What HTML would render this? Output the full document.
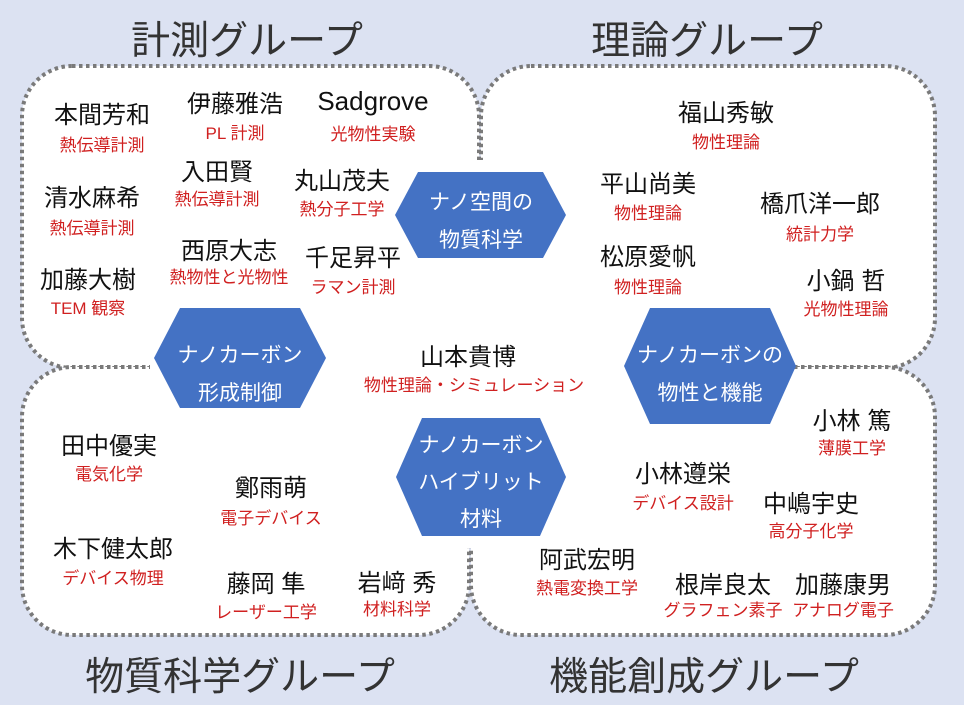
<!DOCTYPE html>
<html><head><meta charset="utf-8"><style>
body{margin:0;width:964px;height:705px;background:#dce2f2;position:relative;overflow:hidden;font-family:"Liberation Sans","Noto Sans CJK JP",sans-serif}
svg{position:absolute;left:0;top:0}
.t{position:absolute;transform:translateX(-50%);white-space:nowrap;text-align:center}
.n{font-size:24px;color:#111}
.s{font-size:17px;color:#d02020}
.h{font-size:39px;color:#333;letter-spacing:0px}
.x{font-size:21px;color:#fff;line-height:38px}
</style></head><body>
<svg width="964" height="705">
<g fill="#fff" stroke="#7a7a7a" stroke-width="4" stroke-dasharray="3.5 3.5">
<rect x="22" y="66" width="457" height="302" rx="50"/>
<rect x="481" y="66" width="454" height="302" rx="50"/>
<rect x="22" y="367" width="447" height="268" rx="50"/>
<rect x="471" y="367" width="464" height="268" rx="50"/>
</g>
<g fill="#fff">
<rect x="150" y="330" width="620" height="75"/>
<rect x="440" y="160" width="80" height="388"/>
<rect x="360" y="170" width="240" height="370"/>
</g>
<g fill="#4472c4">
<polygon points="418,172 543,172 566,215 543,258 418,258 395,215"/>
<polygon points="180,308 300,308 326,358 300,408 180,408 154,358"/>
<polygon points="650,308 770,308 796,366 770,424 650,424 624,366"/>
<polygon points="422,418 540,418 566,477 540,536 422,536 396,477"/>
</g>
</svg>
<div class="t h" style="left:247px;top:10px">計測グループ</div>
<div class="t h" style="left:707px;top:10px">理論グループ</div>
<div class="t h" style="left:240px;top:646px">物質科学グループ</div>
<div class="t h" style="left:704px;top:646px">機能創成グループ</div>

<div class="t x" style="left:481px;top:184px">ナノ空間の<br>物質科学</div>
<div class="t x" style="left:240px;top:337px">ナノカーボン<br>形成制御</div>
<div class="t x" style="left:710px;top:337px">ナノカーボンの<br>物性と機能</div>
<div class="t x" style="left:481px;top:427px;line-height:37px">ナノカーボン<br>ハイブリット<br>材料</div>

<div class="t n" style="left:102px;top:95px">本間芳和</div><div class="t s" style="left:102px;top:131px">熱伝導計測</div>
<div class="t n" style="left:235px;top:84px">伊藤雅浩</div><div class="t s" style="left:235px;top:119px">PL 計測</div>
<div class="t n" style="left:373px;top:86px;font-size:26px">Sadgrove</div><div class="t s" style="left:373px;top:120px">光物性実験</div>
<div class="t n" style="left:217px;top:152px">入田賢</div><div class="t s" style="left:217px;top:185px">熱伝導計測</div>
<div class="t n" style="left:342px;top:161px">丸山茂夫</div><div class="t s" style="left:342px;top:195px">熱分子工学</div>
<div class="t n" style="left:92px;top:178px">清水麻希</div><div class="t s" style="left:92px;top:214px">熱伝導計測</div>
<div class="t n" style="left:229px;top:231px">西原大志</div><div class="t s" style="left:229px;top:263px">熱物性と光物性</div>
<div class="t n" style="left:353px;top:238px">千足昇平</div><div class="t s" style="left:353px;top:273px">ラマン計測</div>
<div class="t n" style="left:88px;top:260px">加藤大樹</div><div class="t s" style="left:88px;top:294px">TEM 観察</div>

<div class="t n" style="left:726px;top:93px">福山秀敏</div><div class="t s" style="left:726px;top:128px">物性理論</div>
<div class="t n" style="left:648px;top:164px">平山尚美</div><div class="t s" style="left:648px;top:199px">物性理論</div>
<div class="t n" style="left:820px;top:184px">橋爪洋一郎</div><div class="t s" style="left:820px;top:220px">統計力学</div>
<div class="t n" style="left:846px;top:261px">小鍋 哲</div><div class="t s" style="left:846px;top:295px">光物性理論</div>
<div class="t n" style="left:648px;top:237px">松原愛帆</div><div class="t s" style="left:648px;top:273px">物性理論</div>

<div class="t n" style="left:468px;top:337px">山本貴博</div><div class="t s" style="left:474px;top:371px">物性理論・シミュレーション</div>

<div class="t n" style="left:109px;top:426px">田中優実</div><div class="t s" style="left:109px;top:460px">電気化学</div>
<div class="t n" style="left:271px;top:468px">鄭雨萌</div><div class="t s" style="left:271px;top:504px">電子デバイス</div>
<div class="t n" style="left:113px;top:529px">木下健太郎</div><div class="t s" style="left:113px;top:564px">デバイス物理</div>
<div class="t n" style="left:266px;top:564px">藤岡 隼</div><div class="t s" style="left:266px;top:598px">レーザー工学</div>
<div class="t n" style="left:397px;top:563px">岩﨑 秀</div><div class="t s" style="left:397px;top:595px">材料科学</div>

<div class="t n" style="left:852px;top:401px">小林 篤</div><div class="t s" style="left:852px;top:434px">薄膜工学</div>
<div class="t n" style="left:683px;top:454px">小林遵栄</div><div class="t s" style="left:683px;top:489px">デバイス設計</div>
<div class="t n" style="left:811px;top:484px">中嶋宇史</div><div class="t s" style="left:811px;top:517px">高分子化学</div>
<div class="t n" style="left:587px;top:540px">阿武宏明</div><div class="t s" style="left:587px;top:574px">熱電変換工学</div>
<div class="t n" style="left:723px;top:565px">根岸良太</div><div class="t s" style="left:723px;top:596px">グラフェン素子</div>
<div class="t n" style="left:843px;top:565px">加藤康男</div><div class="t s" style="left:843px;top:596px">アナログ電子</div>
</body></html>
